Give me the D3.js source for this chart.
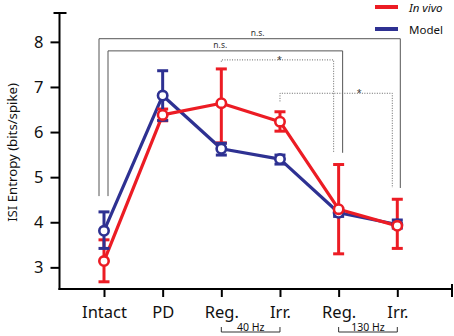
<!DOCTYPE html>
<html lang="en">
<head>
  <meta charset="UTF-8">
  <title>ISI Entropy</title>
  <script src="https://cdn.jsdelivr.net/npm/d3@7/dist/d3.min.js"></script>
  <style>
    body { margin: 0; background: #fff; }
    text { font-family: "Noto Sans", "DejaVu Sans", sans-serif; }
  </style>
</head>
<body>
  <svg id="chart"></svg>
  <script>
    // values
    const categories = ["intact", "pd", "reg40", "irr40", "reg130", "irr130"];
    const tickLabels = ["Intact", "PD", "Reg.", "Irr.", "Reg.", "Irr."];
    const yTicks = [3, 4, 5, 6, 7, 8];

    const invivoMean = [3.14, 6.38, 6.64, 6.23, 4.29, 3.92];
    const invivoHi   = [3.61, 6.51, 7.40, 6.45, 5.28, 4.51];
    const invivoLo   = [2.68, 6.25, 5.76, 6.02, 3.30, 3.42];

    const modelMean = [3.81, 6.81, 5.63, 5.40, 4.21, 3.95];
    const modelHi   = [4.23, 7.36, 5.75, 5.49, 4.30, 4.05];
    const modelLo   = [3.42, 6.26, 5.49, 5.29, 4.13, 3.87];

    // significance brackets: from/to category, bar level, leg ends (data units)
    const brackets = [
      {from: 0, to: 5, level: 8.07, leftEnd: 4.58, rightEnd: 4.76, label: "n.s.", dotted: false},
      {from: 0, to: 4, level: 7.80, leftEnd: 4.58, rightEnd: 5.54, label: "n.s.", dotted: false},
      {from: 2, to: 4, level: 7.60, leftEnd: 7.56, rightEnd: 5.54, label: "*", dotted: true},
      {from: 3, to: 5, level: 6.86, leftEnd: 6.68, rightEnd: 4.76, label: "*", dotted: true}
    ];
    const groups = [
      {from: 2, to: 3, label: "40 Hz"},
      {from: 4, to: 5, label: "130 Hz"}
    ];

    const red = "#ec1c24", blue = "#2e3192";
    const W = 454, H = 336;

    const svg = d3.select("#chart").attr("width", W).attr("height", H);

    const x = d3.scalePoint().domain(categories).range([104, 397.3]);
    const y = d3.scaleLinear().domain([2.52, 8.64]).range([289, 13]);
    const axisX0 = 59.5, axisX1 = 452;

    // y axis
    const yAxis = d3.axisLeft(y).tickValues(yTicks).tickFormat(d3.format("d"))
      .tickSize(9).tickSizeOuter(0).tickPadding(7);
    const gy = svg.append("g").attr("transform", `translate(${axisX0},0)`).call(yAxis);
    gy.select(".domain").remove();
    gy.selectAll(".tick line").attr("stroke-width", 2);
    gy.selectAll(".tick text").attr("font-size", 16.5).attr("fill", "#111");
    svg.append("line").attr("x1", axisX0).attr("x2", axisX0)
      .attr("y1", y.range()[1]).attr("y2", y.range()[0] + 1)
      .attr("stroke", "#000").attr("stroke-width", 2);
    svg.append("line").attr("x1", axisX0 - 6).attr("x2", axisX0 + 7)
      .attr("y1", y.range()[1]).attr("y2", y.range()[1])
      .attr("stroke", "#000").attr("stroke-width", 2);

    // x axis
    const xAxis = d3.axisBottom(x).tickSize(8).tickSizeOuter(0).tickPadding(9)
      .tickFormat((d, i) => tickLabels[i]);
    const gx = svg.append("g").attr("transform", `translate(0,${y.range()[0]})`).call(xAxis);
    gx.select(".domain").remove();
    gx.selectAll(".tick line").attr("stroke-width", 2);
    gx.selectAll(".tick text").attr("font-size", 16.5).attr("fill", "#111");
    svg.append("line").attr("x1", axisX0 - 1).attr("x2", axisX1)
      .attr("y1", y.range()[0]).attr("y2", y.range()[0])
      .attr("stroke", "#000").attr("stroke-width", 2);
    svg.append("line").attr("x1", axisX1).attr("x2", axisX1)
      .attr("y1", y.range()[0] - 5).attr("y2", y.range()[0] + 8)
      .attr("stroke", "#000").attr("stroke-width", 2);

    svg.append("text")
      .attr("transform", "translate(16.5,152.5) rotate(-90)")
      .attr("text-anchor", "middle").attr("font-size", 13.2).attr("fill", "#111")
      .text("ISI Entropy (bits/spike)");

    // group brackets below the axis
    groups.forEach(g => {
      const x0 = x(categories[g.from]), x1 = x(categories[g.to]);
      svg.append("path")
        .attr("d", `M${x0},327V332H${x1}V327`)
        .attr("fill", "none").attr("stroke", "#333").attr("stroke-width", 1);
      svg.append("text").attr("x", (x0 + x1) / 2).attr("y", 330.5)
        .attr("text-anchor", "middle").attr("font-size", 10.5).attr("fill", "#111")
        .text(g.label);
    });

    // significance brackets
    const legShift = [[-5, 3], [4, 4], [0, -5], [0, -5]];
    const labelDx = [8, -5, 2, 23];
    brackets.forEach((b, i) => {
      const x0 = x(categories[b.from]) + legShift[i][0];
      const x1 = x(categories[b.to]) + legShift[i][1];
      svg.append("path")
        .attr("d", `M${x0},${y(b.leftEnd)}V${y(b.level)}H${x1}V${y(b.rightEnd)}`)
        .attr("fill", "none")
        .attr("stroke", b.dotted ? "#666" : "#555")
        .attr("stroke-width", 1)
        .attr("stroke-dasharray", b.dotted ? "1,1.5" : null);
      svg.append("text")
        .attr("x", (x0 + x1) / 2 + labelDx[i])
        .attr("y", y(b.level) - (b.dotted ? -3 : 3))
        .attr("text-anchor", "middle")
        .attr("font-size", b.dotted ? 9 : 8.5).attr("fill", "#333")
        .text(b.label);
    });

    // series
    const series = [
      {mean: invivoMean, hi: invivoHi, lo: invivoLo, color: red},
      {mean: modelMean, hi: modelHi, lo: modelLo, color: blue}
    ].map(s => Object.assign(s, {
      pts: categories.map((c, i) => ({c, m: s.mean[i], h: s.hi[i], l: s.lo[i]}))
    }));
    const [sRed, sBlue] = series;

    function drawLine(s) {
      svg.append("path").datum(s.pts)
        .attr("d", d3.line().x(d => x(d.c)).y(d => y(d.m)))
        .attr("fill", "none").attr("stroke", s.color).attr("stroke-width", 3.2)
        .attr("stroke-linejoin", "round");
    }
    function drawErrors(s) {
      const eb = svg.append("g").selectAll("g").data(s.pts).join("g");
      eb.append("line").attr("x1", d => x(d.c)).attr("x2", d => x(d.c))
        .attr("y1", d => y(d.h)).attr("y2", d => y(d.l))
        .attr("stroke", s.color).attr("stroke-width", 3);
      ["h", "l"].forEach(k => {
        eb.append("line").attr("x1", d => x(d.c) - 5.5).attr("x2", d => x(d.c) + 5.5)
          .attr("y1", d => y(d[k])).attr("y2", d => y(d[k]))
          .attr("stroke", s.color).attr("stroke-width", 3);
      });
    }
    function drawMarkers(s) {
      svg.append("g").selectAll("circle").data(s.pts).join("circle")
        .attr("cx", d => x(d.c)).attr("cy", d => y(d.m)).attr("r", 4.7)
        .attr("fill", "#fff").attr("stroke", s.color).attr("stroke-width", 2.6);
    }
    drawLine(sBlue);
    drawLine(sRed);
    drawErrors(sRed);
    drawErrors(sBlue);
    drawMarkers(sBlue);
    drawMarkers(sRed);

    // legend
    const legend = [{label: "In vivo", color: red, italic: true}, {label: "Model", color: blue, italic: false}];
    legend.forEach((l, i) => {
      const ly = 7 + i * 22;
      svg.append("line").attr("x1", 375).attr("x2", 398).attr("y1", ly).attr("y2", ly)
        .attr("stroke", l.color).attr("stroke-width", 4);
      svg.append("text").attr("x", 409).attr("y", ly + 4.5)
        .attr("font-size", 11.5).attr("fill", "#111")
        .attr("font-style", l.italic ? "italic" : "normal")
        .text(l.label);
    });
  </script>
</body>
</html>
